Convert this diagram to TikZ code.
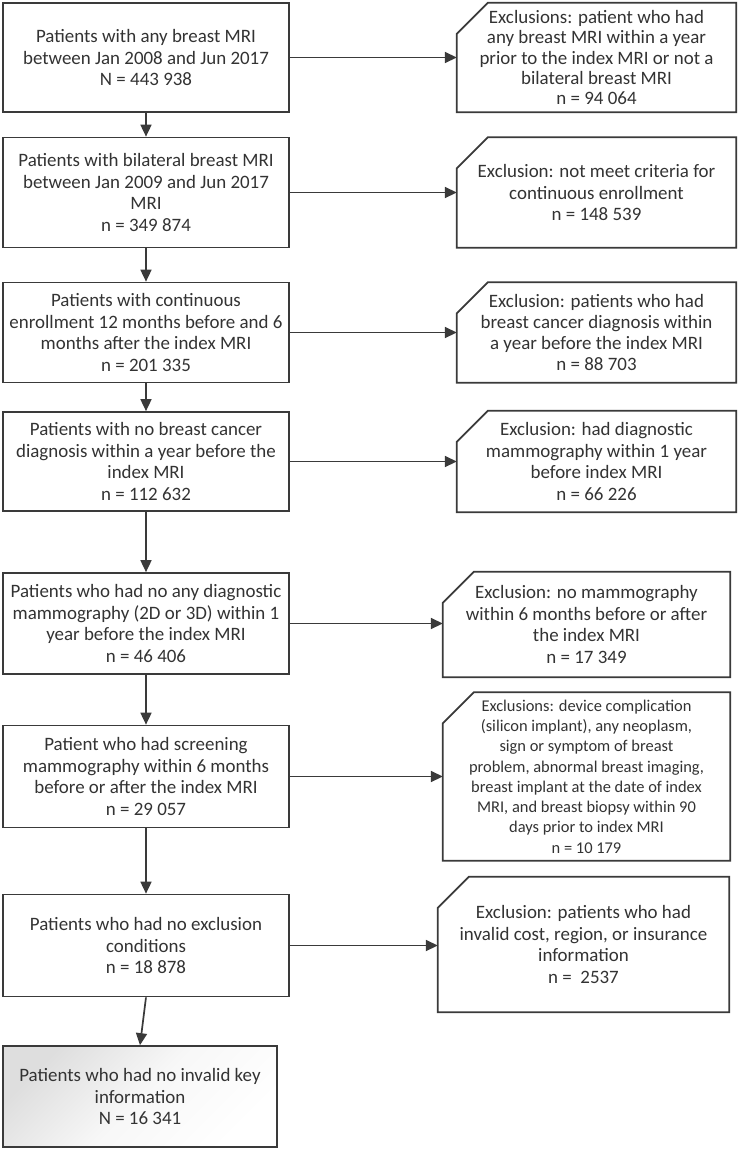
\documentclass[tikz,border=0pt]{standalone}
\usepackage{fontspec}
\setmainfont{Carlito}
\usetikzlibrary{arrows.meta}
\definecolor{ink}{HTML}{333333}
\definecolor{edge}{HTML}{3A3A3A}
\newcommand\snipbox[1]{\draw[boxline] ([xshift=31bp]#1.north west) -- (#1.north east) -- (#1.south east) -- (#1.south west) -- ([yshift=-31bp]#1.north west) -- cycle;}
\begin{document}
\begin{tikzpicture}[x=1bp,y=-1bp,
  boxline/.style={draw=edge, line width=1.7bp},
  lbox/.style={boxline, rectangle, align=center, text=ink, inner sep=0pt,
    font=\fontsize{19}{22}\selectfont, minimum width=286bp},
  rbox/.style={rectangle, align=center, text=ink, inner sep=0pt,
    font=\fontsize{19}{21.5}\selectfont},
  conn/.style={draw=edge, line width=1.7bp, -{Triangle[length=12bp,width=11bp]}}
]
\useasboundingbox (0,0) rectangle (740,1151);
\fill[white] (0,0) rectangle (740,1151);

% left column
\node[lbox, minimum height=109bp] (b1) at (146,57.5) {Patients with any breast MRI\\between Jan 2008 and Jun 2017\\N = 443 938};
\node[lbox, minimum height=110bp] (b2) at (146,192.5) {Patients with bilateral breast MRI\\between Jan 2009 and Jun 2017\\MRI\\n = 349 874};
\node[lbox, minimum height=100bp] (b3) at (146,332.5) {Patients with continuous\\enrollment 12 months before and 6\\months after the index MRI\\n = 201 335};
\node[lbox, minimum height=99bp] (b4) at (146,461.5) {Patients with no breast cancer\\diagnosis within a year before the\\index MRI\\n = 112 632};
\node[lbox, minimum height=101bp] (b5) at (146,623.5) {Patients who had no any diagnostic\\mammography (2D or 3D) within 1\\year before the index MRI\\n = 46 406};
\node[lbox, minimum height=102bp] (b6) at (146,776.5) {Patient who had screening\\mammography within 6 months\\before or after the index MRI\\n = 29 057};
\node[lbox, minimum height=102bp] (b7) at (146,945.5) {Patients who had no exclusion\\conditions\\n = 18 878};
\node[lbox, minimum height=101bp, minimum width=274bp, top color=black!13, bottom color=white, middle color=black!3, shading angle=45] (b8) at (140,1096.5) {Patients who had no invalid key\\information\\N = 16 341};

% right column
\node[rbox, minimum width=279bp, minimum height=109bp, font=\fontsize{19}{20.2}\selectfont] (r1) at (596.5,57.5) {Exclusions: patient who had\\any breast MRI within a year\\prior to the index MRI or not a\\bilateral breast MRI\\n = 94 064};
\node[rbox, minimum width=279bp, minimum height=110bp] (r2) at (596.5,192.5) {Exclusion: not meet criteria for\\continuous enrollment\\n = 148 539};
\node[rbox, minimum width=279bp, minimum height=100bp, font=\fontsize{19}{20.8}\selectfont] (r3) at (596.5,332.5) {Exclusion: patients who had\\breast cancer diagnosis within\\a year before the index MRI\\n = 88 703};
\node[rbox, minimum width=279bp, minimum height=101bp] (r4) at (596.5,461.5) {Exclusion: had diagnostic\\mammography within 1 year\\before index MRI\\n = 66 226};
\node[rbox, minimum width=287bp, minimum height=105bp] (r5) at (586.5,624.5) {Exclusion: no mammography\\within 6 months before or after\\the index MRI\\n = 17 349};
\node[rbox, minimum width=287bp, minimum height=168bp, font=\fontsize{16.5}{20.4}\selectfont] (r6) at (586.5,776.5) {Exclusions: device complication\\(silicon implant), any neoplasm,\\sign or symptom of breast\\problem, abnormal breast imaging,\\breast implant at the date of index\\MRI, and breast biopsy within 90\\days prior to index MRI\\n = 10 179};
\node[rbox, minimum width=291bp, minimum height=135bp] (r7) at (583.5,944.5) {Exclusion: patients who had\\invalid cost, region, or insurance\\information\\n =\ \ 2537};

\snipbox{r1}
\snipbox{r2}
\snipbox{r3}
\snipbox{r4}
\snipbox{r5}
\snipbox{r6}
\snipbox{r7}

% vertical connectors
\draw[conn] (b1.south) -- (b2.north);
\draw[conn] (b2.south) -- (b3.north);
\draw[conn] (b3.south) -- (b4.north);
\draw[conn] (b4.south) -- (b5.north);
\draw[conn] (b5.south) -- (b6.north);
\draw[conn] (b6.south) -- (b7.north);
\draw[conn] (b7.south) -- (b8.north);

% horizontal connectors
\draw[conn] (b1.east) -- (b1.east -| r1.west);
\draw[conn] (b2.east) -- (b2.east -| r2.west);
\draw[conn] (b3.east) -- (b3.east -| r3.west);
\draw[conn] (b4.east) -- (b4.east -| r4.west);
\draw[conn] (b5.east) -- (b5.east -| r5.west);
\draw[conn] (b6.east) -- (b6.east -| r6.west);
\draw[conn] (b7.east) -- (b7.east -| r7.west);
\end{tikzpicture}
\end{document}
